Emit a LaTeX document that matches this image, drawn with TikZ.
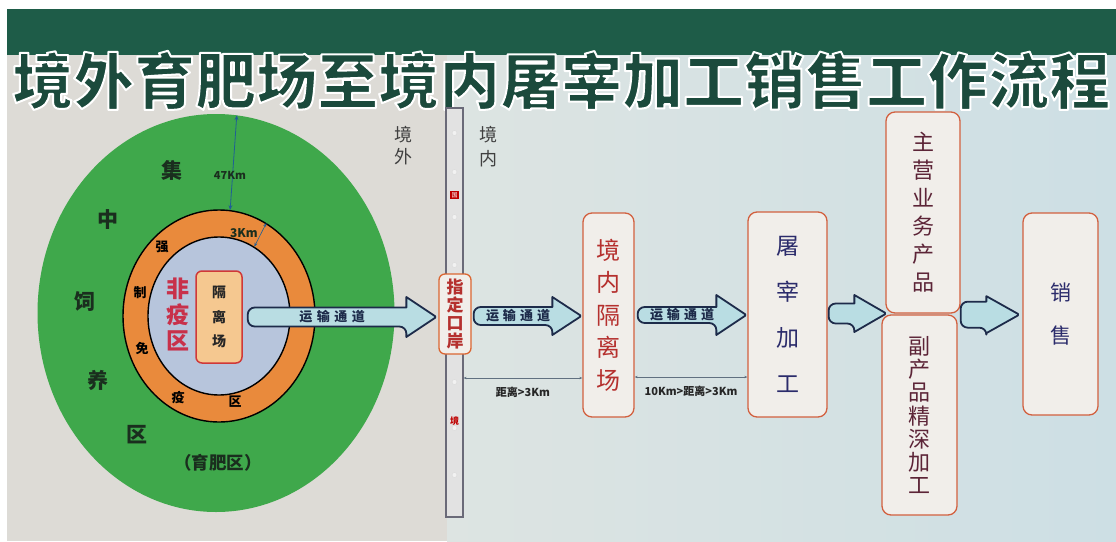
\documentclass[tikz,border=0pt]{standalone}
\usepackage{fontspec}
\setmainfont{Noto Sans CJK SC}
\usetikzlibrary{shapes.geometric,arrows.meta,calc}
\definecolor{headgreen}{HTML}{1E5C48}
\definecolor{titlegreen}{HTML}{1B4A3C}
\definecolor{leftbg}{HTML}{DDDBD6}
\definecolor{rightbgA}{HTML}{DDE4E2}
\definecolor{rightbgB}{HTML}{CDDFE4}
\definecolor{farmgreen}{HTML}{3FA84B}
\definecolor{ringorange}{HTML}{E98A3C}
\definecolor{innerblue}{HTML}{B7C5DC}
\definecolor{gelifill}{HTML}{F5C890}
\definecolor{gelidraw}{HTML}{D03838}
\definecolor{arrowfill}{HTML}{B9DDE3}
\definecolor{arrowdraw}{HTML}{1D2B4A}
\definecolor{boxdraw}{HTML}{D2603F}
\definecolor{boxfill}{HTML}{F1EEEA}
\definecolor{redtext}{HTML}{B5302E}
\definecolor{feiyi}{HTML}{C8304A}
\definecolor{navytext}{HTML}{2B2B6B}
\definecolor{maroontext}{HTML}{5C2437}
\definecolor{zonetext}{HTML}{1A2E1E}
\definecolor{barfill}{HTML}{E2E2E2}
\definecolor{bardraw}{HTML}{6A6A78}
\definecolor{dimcol}{HTML}{607080}
\definecolor{kmline}{HTML}{1F5F95}
\tikzset{
  vbox/.style={draw=boxdraw, fill=boxfill, line width=1.3pt, rounded corners=9pt, align=center, inner sep=0pt},
  blockarr/.style={draw=arrowdraw, fill=arrowfill, line width=1.8pt, line join=round},
  arrlabel/.style={text=arrowdraw, font=\fontsize{13}{13}\selectfont\bfseries, inner sep=0pt},
  zone/.style={text=zonetext, font=\fontsize{21}{21}\selectfont\bfseries, inner sep=0pt},
  ringtxt/.style={text=black, font=\fontsize{13}{13}\selectfont\bfseries, inner sep=0pt},
  dimline/.style={draw=dimcol, line width=0.6pt, {Stealth[length=3pt,width=2.4pt]}-{Stealth[length=3pt,width=2.4pt]}},
  dimlabel/.style={text=black!85, font=\fontsize{11}{11}\selectfont\bfseries, inner sep=0pt},
  kmarrow/.style={draw=kmline, line width=0.8pt, {Stealth[length=5pt,width=4pt]}-{Stealth[length=5pt,width=4pt]}},
  bardot/.style={circle, draw=black!15, fill=white!95!black, minimum size=5pt, inner sep=0pt, line width=0.4pt},
}
\newcommand\blockarrow[7]{%
  \draw[blockarr] let \p1=(#1), \p2=(#2) in
    (\x2-#5pt,\y1+#3pt) [rounded corners=7pt] -- (\x1,\y1+#3pt) -- (\x1,\y1-#3pt)
    -- (\x2-#5pt,\y1-#3pt) [sharp corners] -- (\x2-#5pt,\y1-#4pt)
    [rounded corners=1.5pt] -- (\x2,\y1) [sharp corners] -- (\x2-#5pt,\y1+#4pt) -- cycle;
  \path let \p1=(#1), \p2=(#2) in
    node[arrlabel] (#6) at ({(\x1+\x2-#5pt)/2+5pt},\y1) {#7};
}
\begin{document}
\begin{tikzpicture}[x=1pt,y=-1pt]
\useasboundingbox (0,0) rectangle (1116,541);
\fill[white] (0,0) rectangle (1116,541);
% backgrounds
\fill[leftbg] (7,55) rectangle (447,541);
\shade[left color=rightbgA, right color=rightbgB] (447,55) rectangle (1116,541);
\fill[headgreen] (7,9) rectangle (1116,55);
% title
\node[anchor=base west, inner sep=0pt, text=titlegreen, font=\fontsize{61}{61}\selectfont\bfseries] (title) at (12,104)
  {\special{pdf:literal direct 2 Tr 1 1 1 RG 2 w 1 j}境外育肥场至境内屠宰加工销售工作流程\special{pdf:literal direct 0 Tr 0.4 w 0 j}};
% zones
\node[ellipse, fill=farmgreen, minimum width=357pt, minimum height=398pt, inner sep=0pt] (farm) at (216,313) {};
\node[ellipse, fill=ringorange, draw=black, line width=1.4pt, minimum width=192pt, minimum height=212pt, inner sep=0pt] (ring) at (219,316) {};
\node[ellipse, fill=innerblue, draw=black, line width=1.4pt, minimum width=142pt, minimum height=158pt, inner sep=0pt] (inner) at (219,316) {};
\node[draw=gelidraw, fill=gelifill, line width=1.5pt, rounded corners=6pt, minimum width=46pt, minimum height=92pt, inner sep=0pt,
      align=center, font=\fontsize{14}{24.5}\selectfont\bfseries, text=black!85] (geli) at (219,317) {隔\\离\\场};
\node[align=center, text=feiyi, font=\fontsize{23}{26}\selectfont\bfseries, inner sep=0pt] (feiyiqu) at (178,314) {非\\疫\\区};
% ring labels
\node[ringtxt] (q1) at (162,247) {强};
\node[ringtxt] (q2) at (140,293) {制};
\node[ringtxt] (q3) at (142,348) {免};
\node[ringtxt] (q4) at (178,398) {疫};
\node[ringtxt] (q5) at (235,402) {区};
% farm labels
\node[zone] (z1) at (172,170) {集};
\node[zone] (z2) at (108,220) {中};
\node[zone] (z3) at (85,302) {饲};
\node[zone] (z4) at (98,380) {养};
\node[zone] (z5) at (137,435) {区};
\node[text=zonetext, font=\fontsize{17.5}{17.5}\selectfont\bfseries, inner sep=0pt] (yufei) at (218,463) {（育肥区）};
% distances on circles
\draw[kmarrow] (farm.84) -- (ring.84);
\node[dimlabel, text=zonetext] (km47) at (230,175) {47Km};
\draw[kmarrow, line width=0.6pt, {Stealth[length=4pt,width=3pt]}-{Stealth[length=4pt,width=3pt]}] (ring.63) -- (inner.63);
\node[dimlabel, text=zonetext, font=\fontsize{12}{12}\selectfont\bfseries] (km3) at (244,233) {3Km};
% side labels
\node[align=center, text=black!75, font=\fontsize{18}{22}\selectfont, inner sep=0pt] (jingwai) at (403,146) {境\\外};
\node[align=center, text=black!75, font=\fontsize{18}{24}\selectfont, inner sep=0pt] (jingnei) at (488,147) {境\\内};
% border bar
\node[draw=bardraw, fill=barfill, line width=1.2pt, minimum width=17pt, minimum height=409pt, inner sep=0pt] (bar) at (454.5,312.5) {};
\foreach \yy in {133,172,217,265,382,428,475} \node[bardot] (dot\yy) at (454.5,\yy) {};
\node[fill=red!75!black, text=white, font=\fontsize{6}{6}\selectfont, inner sep=1.2pt] (guo) at (454.5,195) {国};
\node[text=red!75!black, font=\fontsize{9}{9}\selectfont\bfseries, inner sep=0pt] (jingmark) at (454.5,421) {境};
% boxes
\node[vbox, draw=boxdraw!80!orange, rounded corners=6pt, minimum width=32pt, minimum height=80pt, text=redtext,
      font=\fontsize{17}{18.3}\selectfont\bfseries] (port) at (455,314) {指\\定\\口\\岸};
\node[vbox, minimum width=51pt, minimum height=204pt, text=redtext, font=\fontsize{24}{32.5}\selectfont] (qin) at (608.5,315) {境\\内\\隔\\离\\场};
\node[vbox, minimum width=79pt, minimum height=205pt, text=navytext, font=\fontsize{23}{46}\selectfont] (slaughter) at (787.5,314.5) {屠\\宰\\加\\工};
\node[vbox, minimum width=74pt, minimum height=201pt, text=maroontext, font=\fontsize{22}{28}\selectfont] (mainprod) at (923,212.5) {主\\营\\业\\务\\产\\品};
\node[vbox, minimum width=75pt, minimum height=200pt, text=maroontext, font=\fontsize{22}{23.3}\selectfont] (byprod) at (919.5,415) {副\\产\\品\\精\\深\\加\\工};
\node[vbox, minimum width=75pt, minimum height=202pt, text=navytext, font=\fontsize{21}{43}\selectfont] (sale) at (1060.5,314) {销\\售};
% block arrows
\blockarrow{$(geli.east)+(5,0)$}{$(port.west)+(-2,0)$}{9.5}{20}{30}{lab1}{运\hspace{4.5pt}输\hspace{4.5pt}通\hspace{4.5pt}道}
\blockarrow{$(port.east)+(2,2)$}{$(qin.west)+(-1,0)$}{9}{19}{29}{lab2}{运\hspace{4pt}输\hspace{4pt}通\hspace{4pt}道}
\blockarrow{$(qin.east)+(3,0)$}{$(slaughter.west)+(-1,0)$}{8}{20}{30}{lab3}{运\hspace{4pt}输\hspace{4pt}通\hspace{4pt}道}
\blockarrow{$(slaughter.east)+(1,-1)$}{$(mainprod.south west)+(1,0)$}{10}{18.5}{32}{lab4}{}
\blockarrow{$(mainprod.south east)+(0,1)$}{$(sale.west)+(-3,0)$}{13}{18.5}{33}{lab5}{}
% distance lines
\draw[dimline] ($(bar.east |- qin.west)+(0,63)$) -- ($(qin.west)+(0,63)$)
  node[dimlabel, midway, below=9pt] (d1) {距离>3Km};
\draw[dimline] ($(qin.east)+(0,62)$) -- ($(slaughter.west |- qin.east)+(0,62)$)
  node[dimlabel, midway, below=9pt] (d2) {10Km>距离>3Km};
\end{tikzpicture}
\end{document}
